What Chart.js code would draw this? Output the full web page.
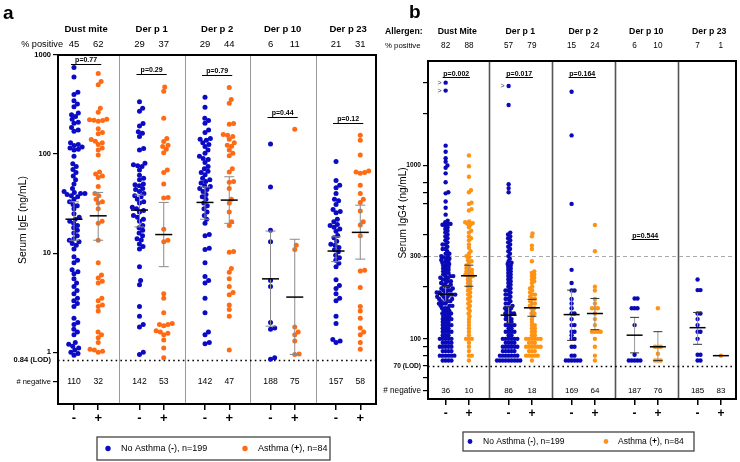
<!DOCTYPE html>
<html><head><meta charset="utf-8">
<script src="https://cdn.jsdelivr.net/npm/chart.js@4.4.1/dist/chart.umd.min.js"></script>
<style>
html,body{margin:0;padding:0;background:#fff;}
#wrap{position:relative;width:740px;height:462px;}
canvas{position:absolute;left:0;top:0;}
</style></head><body>
<div id="wrap"><canvas id="ca" width="740" height="462"></canvas><canvas id="cb" width="740" height="462"></canvas></div>
<script>
// ---------------- DATA ----------------
const allergensA = ['Dust mite', 'Der p 1', 'Der p 2', 'Der p 10', 'Der p 23'];
const allergensB = ['Dust Mite', 'Der p 1', 'Der p 2', 'Der p 10', 'Der p 23'];

// Panel a: Serum IgE (ng/mL), positives only
const igeNoAsthma = [
  [750,600,420,400,345,320,300,260,250,240,225,210,205,185,175,170,130,125,122,118,115,112,110,95,80,75,70,65,60,55,50,45,42,41,40,40,39,38,37,35,33,31,30,28,25,23,22,21,20,19,18,17,16,15,14,13.5,13,12.5,12,11,9.2,8.5,8,6.8,6.5,6.2,5.5,5,4.6,4.2,3.9,3.5,3.3,3.1,2.9,2.2,2.0,1.9,1.7,1.6,1.5,1.25,1.2,1.15,1.1,1.05,1.0,0.97,0.93],
  [337,290,270,204,192,168,162,150,114,110,81,78,76,75,69,61,57,55,50,49,45,42,40,37,35,32,29,28,27,26,24,22,21,19,18,17,15,14,13.6,12.4,11.7,11,7.3,5.3,4.8,2.9,2.3,1.9,1.8,1.0,0.95,48,44,38,33,23,16],
  [374,297,230,218,205,175,165,144,141,138,119,110,102,90,88,82,71,67,65,62,57,55,53,51,48,47,44,42,39,35,32,28,26,24,22,20,15.4,15,11.2,10.9,8,5.8,5.3,5,3.5,2.5,1.6,1.5,1.25,1.22,130,95,75,45,37,30,125],
  [126,46.6,17,13,5.3,4.6,2.0,1.7,1.75,0.85,0.88],
  [84,54,48.5,45.8,40,35,33.7,31,27.5,26.3,25.5,20.7,19.5,19,18.2,16.6,15.1,14.3,13.2,12.3,11.4,10.8,10.3,9.5,9,8.5,7.9,7.3,5.4,4.7,4.4,3.9,3.5,3.3,2.3,1.95,1.34,1.3,1.25,22,17.5,12]
];
const igeAsthma = [
  [650,540,500,290,265,225,222,220,218,215,180,165,160,140,135,130,125,115,110,98,66,63,60,58,47,40,38,35,33,32,28,21,20,13.5,8,6,5.6,5.2,5,3.5,3.3,3,2.9,2.6,1.6,1.5,1.4,1.25,1.07,1.02,1.0,1.05],
  [475,430,230,144,134,123,119,112,103,69,65,50,36.5,36,17.4,13.5,13,3.9,3.5,2.5,1.95,1.9,1.85,1.65,1.55,1.5,1.33,1.1,0.88,1.9,1.6],
  [469,356,325,204,200,158,155,141,123,120,110,102,96,71,66,53,52,35,32,26,20.7,19,10.2,10.4,7,6.4,4.6,4,3.8,3,2.7,2.3,1.05,150,45,130,5.5],
  [178,12,10.9,1.8,1.6,1.5,1.3,0.96,0.95],
  [155,138,98,67.5,66,65,64,48.5,40,32.5,26.6,20.7,19.2,15,6.7,6.6,4.5,2.9,2.6,2.2,1.76,1.6,1.5,1.25,1.07,35]
];
const pctPosA_no = [45, 29, 29, 6, 21];
const pctPosA_yes = [62, 37, 44, 11, 31];
const negA_no = [110, 142, 142, 188, 157];
const negA_yes = [32, 53, 47, 75, 58];
const pTextA = ['p=0.77', 'p=0.29', 'p=0.79', 'p=0.44', 'p=0.12'];
const pLevelA = [820, 640, 630, 235, 205];
const medA_no = [22, 27.2, 32.5, 5.5, 10.5];
const q1A_no = [13.5, 18.4, 22, 1.83, 8.2];
const q3A_no = [33, 38.5, 46.6, 16.7, 14.6];
const medA_yes = [23.8, 15.4, 34.3, 3.6, 16.2];
const q1A_yes = [13.5, 7.3, 20, 0.95, 8.7];
const q3A_yes = [41, 32.5, 59, 13.8, 30.5];
const yTicksA = [0.5, 0.84, 1, 10, 100, 1000];
const yLabelsA = {0.5: '# negative', 0.84: '0.84 (LOD)', 1: '1', 10: '10', 100: '100', 1000: '1000'};

// Panel b: Serum IgG4 (ng/mL), positives only
const igg4NoAsthma = [
  [3000,2700,1300,1200,1100,1000,970,700,690,570,470,460,455,450,440,430,420,410,400,390,380,370,360,350,340,330,320,310,300,300,295,290,285,280,275,270,265,260,255,250,245,240,235,230,225,220,215,210,205,200,200,195,195,190,190,190,185,185,185,180,180,180,180,175,175,175,170,170,170,165,165,165,160,160,160,155,155,155,150,150,150,145,145,145,140,140,140,140,135,135,135,130,130,130,130,125,125,125,120,120,120,120,115,115,115,110,110,110,110,105,105,105,100,100,100,100,100,95,95,95,95,90,90,90,90,90,85,85,85,85,80,80,80,80,80,80,75,75,75,75,250,240,230,220,210,280,260,270,290,310,330,350,460,480,520,620,800,900,1050,230,215,205,225],
  [2870,2230,780,740,700,410,400,390,380,370,360,350,340,330,320,310,300,290,280,270,260,250,245,240,235,230,220,210,205,200,195,190,185,180,175,170,165,160,155,150,150,145,145,140,140,140,135,135,130,130,125,125,120,120,120,115,115,110,110,110,105,105,100,100,100,100,100,95,95,95,90,90,90,90,90,90,85,85,85,85,80,80,80,80,80,80,80,75,75,75,75,75,75,75,75,75,160,170,180,190,130,140,150,120,110,100,95,85,215,225,255,265,275],
  [2660,1490,600,250,210,190,190,170,160,140,140,130,120,120,110,110,100,100,90,90,80,80,75,75,75,75,75,75,150,105],
  [171,171,150,150,150,120,81,75,75,75,75,75],
  [220,191,191,140,140,130,110,110,100,81,81,75,75,120]
];
const igg4Asthma = [
  [1140,990,860,720,700,610,600,560,550,475,470,465,460,455,440,420,410,390,380,370,350,335,320,310,300,295,285,280,275,265,260,255,250,245,240,235,230,225,220,215,210,205,200,195,190,185,180,175,170,165,160,155,150,145,140,135,130,125,120,115,110,105,100,100,100,95,90,85,80,80,75,250,240,230],
  [405,390,345,330,280,245,240,235,230,225,220,215,210,200,195,190,185,180,175,170,165,160,155,150,150,145,140,135,130,125,120,120,115,115,110,110,105,105,100,100,100,100,100,100,95,95,95,90,90,90,90,90,90,85,85,85,80,80,80,80,80,75,160,170,180,140],
  [453,320,200,190,170,150,150,150,140,130,110,110,110,110,100,90,80,75,160,120],
  [150,90,90,90,82,75,75,75],
  [80]
];
const pctPosB_no = [82, 57, 15, 6, 7];
const pctPosB_yes = [88, 79, 24, 10, 1];
const negB_no = [36, 86, 169, 187, 185];
const negB_yes = [10, 18, 64, 76, 83];
const pTextB = ['p=0.002', 'p=0.017', 'p=0.164', 'p=0.544', null];
const pLevelB = [3250, 3250, 3250, 374, null];
const medB_no = [181, 137, 138, 105, 116];
const q1B_no = [165, 123, 98, 83, 93];
const q3B_no = [200, 153, 191, 133, 142];
const medB_yes = [231, 151, 140, 90, 80];
const q1B_yes = [201, 135, 113, 75, null];
const q3B_yes = [266, 169, 171, 110, null];
const overRangeB = [[0, 3000], [0, 2700], [1, 2870]]; // [group, value] marked with ">"
const yTicksB = [50, 60, 70, 80, 90, 100, 200, 300, 400, 600, 700, 800, 1000, 2000, 3000];
const yLabelsB = {50: '# negative', 70: '70 (LOD)', 100: '100', 300: '300', 1000: '1000'};

// ---------------- DRAWING ----------------
Chart.defaults.font.family = "'Liberation Sans', Arial, sans-serif";
Chart.defaults.color = '#000';
const FAM = "'Liberation Sans', Arial, sans-serif";
const OFF_NO = 0.31, OFF_YES = 0.68;

function txt(ctx, s, x, y, font, align, base, color) {
  ctx.save();
  ctx.font = font + ' ' + FAM;
  ctx.textAlign = align || 'center';
  ctx.textBaseline = base || 'middle';
  ctx.fillStyle = color || '#000';
  ctx.fillText(s, x, y);
  ctx.restore();
}
function richLine(ctx, parts, x, y) {
  ctx.save();
  ctx.textBaseline = 'middle';
  ctx.textAlign = 'left';
  ctx.fillStyle = '#000';
  let cx = x;
  parts.forEach(([s, f]) => { ctx.font = f + ' ' + FAM; ctx.fillText(s, cx, y); cx += ctx.measureText(s).width; });
  ctx.restore();
}

function makePanel(id, P) {
  const noPts = [], yesPts = [];
  P.noData.forEach((arr, g) => arr.forEach(v => noPts.push({x: g + OFF_NO, y: v})));
  P.yesData.forEach((arr, g) => arr.forEach(v => yesPts.push({x: g + OFF_YES, y: v})));

  const swarm = {
    id: 'swarm',
    afterDatasetsUpdate(chart) {
      chart.data.datasets.forEach((ds, di) => {
        const meta = chart.getDatasetMeta(di);
        const groups = {};
        meta.data.forEach((el, i) => {
          const k = ds.data[i].x;
          (groups[k] = groups[k] || []).push(el);
        });
        const d = 2 * P.radius + P.gap;
        Object.values(groups).forEach(els => {
          const base = els[0].x;
          els.sort((a, b) => b.y - a.y);
          const placed = [];
          els.forEach(el => {
            const cands = [0];
            placed.forEach(p => {
              const dy = el.y - p.y;
              if (Math.abs(dy) < d) {
                const dx = Math.sqrt(d * d - dy * dy);
                cands.push(p.o + dx, p.o - dx);
              }
            });
            const order = cands.map((c, i) => [c, i]).sort((a, b) => (Math.abs(a[0]) - Math.abs(b[0])) || (a[1] - b[1]));
            let best = 0;
            for (const [c] of order) {
              if (placed.every(p => { const dy = el.y - p.y, dx = c - p.o; return dx * dx + dy * dy >= d * d - 0.05; })) { best = c; break; }
            }
            placed.push({y: el.y, o: best});
            el.x = base + best;
          });
        });
      });
    }
  };

  const deco = {
    id: 'deco',
    beforeDatasetsDraw(chart) {
      const {ctx, chartArea: a, scales: {x, y}} = chart;
      ctx.save();
      ctx.strokeStyle = P.divColor; ctx.lineWidth = P.divWidth;
      for (let g = 1; g < 5; g++) {
        const px = Math.round(x.getPixelForValue(g)) + 0.5;
        ctx.beginPath(); ctx.moveTo(px, a.top); ctx.lineTo(px, a.bottom); ctx.stroke();
      }
      if (P.refLine) {
        const py = Math.round(y.getPixelForValue(P.refLine)) + 0.5;
        ctx.strokeStyle = '#aaa'; ctx.lineWidth = 1; ctx.setLineDash([4, 3]);
        ctx.beginPath(); ctx.moveTo(a.left - 8, py); ctx.lineTo(a.right, py); ctx.stroke();
      }
      const ly = Math.round(y.getPixelForValue(P.lod)) + 0.5;
      ctx.strokeStyle = '#000'; ctx.lineWidth = 1.6; ctx.setLineDash([1.6, 3.2]);
      ctx.beginPath(); ctx.moveTo(a.left, ly); ctx.lineTo(a.right, ly); ctx.stroke();
      ctx.restore();
    },
    afterDatasetsDraw(chart) {
      const {ctx, chartArea: a, scales: {x, y}} = chart;
      ctx.save();
      const drawBar = (g, off, med, q1, q3) => {
        const cx = x.getPixelForValue(g + off);
        if (q1 != null && q3 != null) {
          const y1 = y.getPixelForValue(q1), y3 = y.getPixelForValue(q3);
          ctx.strokeStyle = P.whiskColor; ctx.lineWidth = 1;
          ctx.beginPath(); ctx.moveTo(cx, y1); ctx.lineTo(cx, y3); ctx.stroke();
          ctx.strokeStyle = P.capColor;
          ctx.beginPath(); ctx.moveTo(cx - P.capW, y1); ctx.lineTo(cx + P.capW, y1);
          ctx.moveTo(cx - P.capW, y3); ctx.lineTo(cx + P.capW, y3); ctx.stroke();
        }
        const ym = y.getPixelForValue(med);
        ctx.strokeStyle = '#000'; ctx.lineWidth = 1.5;
        ctx.beginPath(); ctx.moveTo(cx - P.medW, ym); ctx.lineTo(cx + P.medW, ym); ctx.stroke();
      };
      for (let g = 0; g < 5; g++) {
        drawBar(g, OFF_NO, P.medNo[g], P.q1No[g], P.q3No[g]);
        drawBar(g, OFF_YES, P.medYes[g], P.q1Yes[g], P.q3Yes[g]);
      }
      for (let g = 0; g < 5; g++) {
        if (!P.pText[g]) continue;
        const x1 = x.getPixelForValue(g + OFF_NO) - 3, x2 = x.getPixelForValue(g + OFF_YES) + P.pExt;
        const py = Math.round(y.getPixelForValue(P.pLevel[g])) + 0.5;
        ctx.strokeStyle = '#000'; ctx.lineWidth = 1;
        ctx.beginPath(); ctx.moveTo(x1, py); ctx.lineTo(x2, py); ctx.stroke();
        txt(ctx, P.pText[g], (x1 + x2) / 2, py - P.pGap, 'bold ' + P.pFont + 'px', 'center', 'alphabetic');
      }
      (P.over || []).forEach(([g, v]) => {
        txt(ctx, '>', x.getPixelForValue(g + OFF_NO) - 6, y.getPixelForValue(v), '7px', 'center', 'middle', '#333');
      });
      ctx.strokeStyle = '#000'; ctx.lineWidth = 2;
      ctx.strokeRect(a.left, a.top, a.right - a.left, a.bottom - a.top);
      ctx.restore();
    },
    afterDraw(chart) {
      const {ctx, scales: {x, y}} = chart;
      const T = P.text;
      txt(ctx, P.letter, T.letterX, T.letterY, 'bold 19px', 'left', 'alphabetic');
      if (T.allergenLabel) txt(ctx, T.allergenLabel, T.labelX, T.nameY, 'bold ' + T.nameSize + 'px', 'left');
      txt(ctx, '% positive', T.pctLabelX, T.pctY, T.pctLabelSize + 'px', T.pctLabelAlign);
      for (let g = 0; g < 5; g++) {
        const xn = x.getPixelForValue(g + OFF_NO), xy = x.getPixelForValue(g + OFF_YES);
        txt(ctx, P.names[g], (xn + xy) / 2, T.nameY, 'bold ' + T.nameSize + 'px');
        txt(ctx, String(P.pctNo[g]), xn, T.pctY, T.numSize + 'px');
        txt(ctx, String(P.pctYes[g]), xy, T.pctY, T.numSize + 'px');
        const ny = y.getPixelForValue(P.negTick);
        txt(ctx, String(P.negNo[g]), xn, ny, T.negSize + 'px');
        txt(ctx, String(P.negYes[g]), xy, ny, T.negSize + 'px');
      }
      ctx.save();
      ctx.translate(T.titleX, T.titleY); ctx.rotate(-Math.PI / 2);
      txt(ctx, P.yTitle, 0, 0, T.titleSize + 'px');
      ctx.restore();
      const L = P.legend;
      ctx.save();
      ctx.strokeStyle = '#444'; ctx.lineWidth = 1.3;
      ctx.strokeRect(L.x, L.y, L.w, L.h);
      const cy = L.y + L.h / 2;
      ctx.fillStyle = P.colNo; ctx.beginPath(); ctx.arc(L.d1, cy, P.radius + 0.2, 0, 2 * Math.PI); ctx.fill();
      ctx.fillStyle = P.colYes; ctx.beginPath(); ctx.arc(L.d2, cy, P.radius + 0.2, 0, 2 * Math.PI); ctx.fill();
      ctx.restore();
      const f = L.size + 'px', fb = 'bold ' + L.size + 'px';
      richLine(ctx, [['No Asthma (', f], ['-', fb], ['), n=199', f]], L.t1, cy);
      richLine(ctx, [['Asthma (', f], ['+', fb], ['), n=84', f]], L.t2, cy);
    }
  };

  return new Chart(document.getElementById(id), {
    type: 'scatter',
    data: {
      datasets: [
        {label: 'No Asthma (-), n=199', data: noPts, backgroundColor: P.colNo, borderWidth: 0, pointRadius: P.radius},
        {label: 'Asthma (+), n=84', data: yesPts, backgroundColor: P.colYes, borderWidth: 0, pointRadius: P.radius}
      ]
    },
    options: {
      responsive: false, animation: false, events: [],
      layout: {padding: P.padding},
      plugins: {legend: {display: false}, tooltip: {enabled: false}},
      scales: {
        x: {
          type: 'linear', min: P.xMin, max: P.xMax, bounds: 'data',
          afterFit: s => { s.height = P.xH; },
          afterBuildTicks: s => {
            const t = [];
            for (let g = 0; g < 5; g++) { t.push({value: g + OFF_NO}); t.push({value: g + OFF_YES}); }
            s.ticks = t;
          },
          ticks: {autoSkip: false, maxRotation: 0, padding: 1, font: {size: P.xFont, weight: 'bold'},
                  callback: (v, i) => (i % 2 === 0 ? '-' : '+')},
          grid: {drawOnChartArea: false, drawTicks: true, tickLength: 6, color: '#000', lineWidth: 1.5},
          border: {color: '#000', width: 2}
        },
        y: {
          type: 'logarithmic', min: P.yMin, max: P.yMax, bounds: 'data',
          afterFit: s => { s.width = P.yW; },
          afterBuildTicks: s => { s.ticks = P.yTicks.map(v => ({value: v})); },
          ticks: {
            autoSkip: false, padding: 2,
            callback: v => (P.yLabels[v] !== undefined ? P.yLabels[v] : ''),
            font: ctx => (ctx.tick && ctx.tick.value === P.negTick)
              ? {size: P.negLabelSize, weight: 'normal'} : {size: P.tickSize, weight: 'bold'}
          },
          grid: {drawOnChartArea: false, drawTicks: true, tickLength: 5, lineWidth: 1.2,
                 tickColor: ctx => (ctx.tick && P.hideTicks.includes(ctx.tick.value)) ? 'rgba(0,0,0,0)' : '#000'},
          border: {color: '#000', width: 2}
        }
      }
    },
    plugins: [swarm, deco]
  });
}

makePanel('ca', {
  noData: igeNoAsthma, yesData: igeAsthma, names: allergensA,
  pctNo: pctPosA_no, pctYes: pctPosA_yes, negNo: negA_no, negYes: negA_yes,
  pText: pTextA, pLevel: pLevelA,
  medNo: medA_no, q1No: q1A_no, q3No: q3A_no, medYes: medA_yes, q1Yes: q1A_yes, q3Yes: q3A_yes,
  yTicks: yTicksA, yLabels: yLabelsA, negTick: 0.5, lod: 0.84, hideTicks: [0.84], refLine: null,
  yMin: 0.3, yMax: 1000, xMin: 0.066, xMax: 4.92,
  padding: {left: 0, top: 55, right: 364, bottom: 32}, yW: 58, xH: 26, xFont: 13,
  tickSize: 7.5, negLabelSize: 7.5,
  colNo: '#0b0bc6', colYes: '#ff6a12', radius: 2.5, gap: -0.6,
  divColor: '#999', divWidth: 1, whiskColor: '#8a8a8a', capColor: '#8a8a8a', capW: 5, medW: 8.5,
  pFont: 7, pGap: 3, pExt: 3,
  yTitle: 'Serum IgE (ng/mL)', letter: 'a',
  text: {letterX: 3, letterY: 19, nameY: 29, nameSize: 9.5, pctLabelX: 63, pctLabelAlign: 'right', pctY: 44,
         pctLabelSize: 9.2, numSize: 9.5, negSize: 8.6, titleX: 23, titleY: 220, titleSize: 10.4},
  legend: {x: 97, y: 437, w: 233, h: 23, d1: 108, t1: 121, d2: 245, t2: 258, size: 9}
});

makePanel('cb', {
  noData: igg4NoAsthma, yesData: igg4Asthma, names: allergensB,
  pctNo: pctPosB_no, pctYes: pctPosB_yes, negNo: negB_no, negYes: negB_yes,
  pText: pTextB, pLevel: pLevelB, over: overRangeB,
  medNo: medB_no, q1No: q1B_no, q3No: q3B_no, medYes: medB_yes, q1Yes: q1B_yes, q3Yes: q3B_yes,
  yTicks: yTicksB, yLabels: yLabelsB, negTick: 50, lod: 70, hideTicks: [], refLine: 300,
  yMin: 45, yMax: 4000, xMin: 0.03, xMax: 4.92,
  padding: {left: 380, top: 61, right: 4, bottom: 39}, yW: 48, xH: 24, xFont: 12,
  tickSize: 6.6, negLabelSize: 8.2,
  colNo: '#0a0ab8', colYes: '#ff9414', radius: 2.2, gap: -1.5,
  divColor: '#555', divWidth: 1.6, whiskColor: '#999', capColor: '#333', capW: 4.5, medW: 8,
  pFont: 7, pGap: 2, pExt: 1,
  yTitle: 'Serum IgG4 (ng/mL)', letter: 'b',
  text: {letterX: 409, letterY: 18, allergenLabel: 'Allergen:', labelX: 385, nameY: 32, nameSize: 8.7,
         pctLabelX: 385, pctLabelAlign: 'left', pctY: 46, pctLabelSize: 7.8, numSize: 8.2, negSize: 8,
         titleX: 403, titleY: 213, titleSize: 10},
  legend: {x: 463, y: 432, w: 231, h: 19, d1: 470, t1: 483, d2: 606, t2: 618, size: 8.5}
});
</script>
</body></html>
